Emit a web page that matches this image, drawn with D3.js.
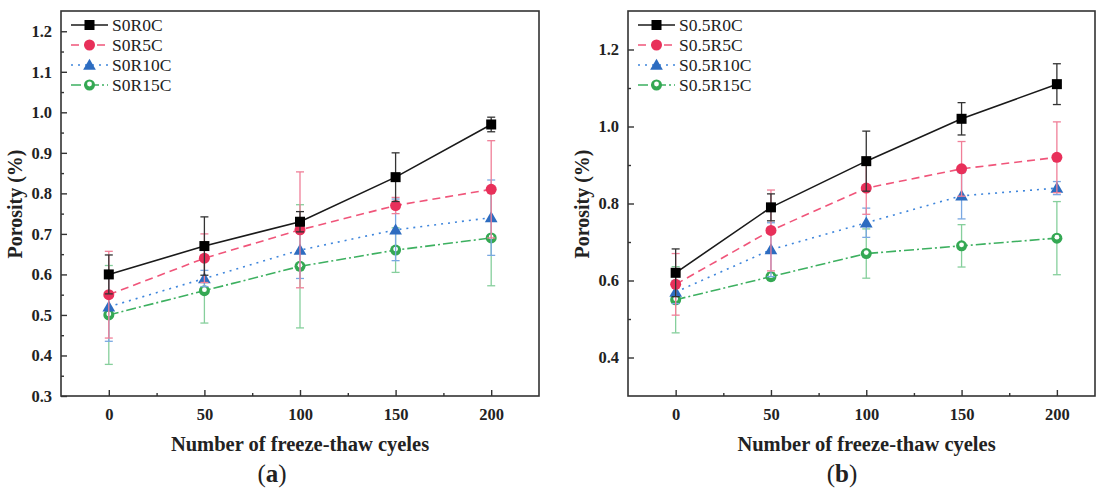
<!DOCTYPE html>
<html>
<head>
<meta charset="utf-8">
<script src="https://cdn.jsdelivr.net/npm/d3@7"></script>
<style>
  body { margin: 0; background: #fff; }
  svg { display: block; font-family: "Liberation Serif", "Times New Roman", serif; }
</style>
</head>
<body>
<script>
// freeze-thaw cycles (x axis)
var cycles = [0, 50, 100, 150, 200];

// panel (a)
var namesA = ["S0R0C", "S0R5C", "S0R10C", "S0R15C"];
var s0r0c = [0.60, 0.67, 0.73, 0.84, 0.97];
var s0r0cErr = [0.048, 0.072, 0.025, 0.06, 0.018];
var s0r5c = [0.55, 0.64, 0.71, 0.77, 0.81];
var s0r5cErr = [0.107, 0.06, 0.143, 0.02, 0.12];
var s0r10c = [0.52, 0.59, 0.66, 0.71, 0.74];
var s0r10cErr = [0.085, 0.02, 0.07, 0.076, 0.093];
var s0r15c = [0.50, 0.56, 0.62, 0.66, 0.69];
var s0r15cErr = [0.122, 0.08, 0.152, 0.055, 0.118];
var yTicksA = [0.3, 0.4, 0.5, 0.6, 0.7, 0.8, 0.9, 1.0, 1.1, 1.2];

// panel (b)
var namesB = ["S0.5R0C", "S0.5R5C", "S0.5R10C", "S0.5R15C"];
var s05r0c = [0.62, 0.79, 0.91, 1.02, 1.11];
var s05r0cErr = [0.062, 0.035, 0.078, 0.042, 0.053];
var s05r5c = [0.59, 0.73, 0.84, 0.89, 0.92];
var s05r5cErr = [0.08, 0.105, 0.068, 0.071, 0.092];
var s05r10c = [0.57, 0.68, 0.75, 0.82, 0.84];
var s05r10cErr = [0.03, 0.07, 0.038, 0.06, 0.017];
var s05r15c = [0.55, 0.61, 0.67, 0.69, 0.71];
var s05r15cErr = [0.086, 0.01, 0.064, 0.055, 0.095];
var yTicksB = [0.4, 0.6, 0.8, 1.0, 1.2];

var xTicks = [0, 50, 100, 150, 200];

// styles per series index
var styles = [
    {line: "#1a1a1a", mark: "#000000", err: "#333333", dash: null, shape: "square"},
    {line: "#f0557a", mark: "#e8305a", err: "#f07f98", dash: "8,5", shape: "circle"},
    {line: "#3f86dc", mark: "#2d6cc0", err: "#7aa8e2", dash: "2,5", shape: "triangle"},
    {line: "#3db060", mark: "#34a853", err: "#86cf9c", dash: "10,3,2,3", shape: "half"}
];

var svg = d3.select("body").append("svg")
    .attr("width", 1096)
    .attr("height", 489);

function drawMarker(g, shape, color, x, y) {
    if (shape == "square") {
        g.append("rect").attr("x", x - 5).attr("y", y - 5).attr("width", 10).attr("height", 10)
            .attr("fill", color);
    } else if (shape == "circle") {
        g.append("circle").attr("cx", x).attr("cy", y).attr("r", 5.5).attr("fill", color);
    } else if (shape == "triangle") {
        g.append("path").attr("d", d3.symbol().type(d3.symbolTriangle).size(70)())
            .attr("transform", "translate(" + x + "," + (y + 1) + ")")
            .attr("fill", color);
    } else {
        g.append("circle").attr("cx", x).attr("cy", y).attr("r", 5.5).attr("fill", color);
        g.append("circle").attr("cx", x).attr("cy", y - 1).attr("r", 2.4).attr("fill", "#fff");
    }
}

function drawPanel(p) {
    var x = d3.scaleLinear().domain(p.xDomain).range([p.left, p.right]);
    var y = d3.scaleLinear().domain(p.yDomain).range([p.bottom, p.top]);
    var g = svg.append("g");

    // series, drawn back to front so the first one is on top
    for (var s = p.series.length - 1; s >= 0; s--) {
        var st = styles[s];
        var vals = p.series[s], errs = p.errors[s];
        var pts = cycles.map(function(c, i) { return {x: c, y: vals[i], e: errs[i]}; });
        var sg = g.append("g");

        // error bars
        pts.forEach(function(d) {
            var px = x(d.x), y1 = y(d.y + d.e), y2 = y(d.y - d.e);
            sg.append("line").attr("x1", px).attr("x2", px).attr("y1", y1).attr("y2", y2)
                .attr("stroke", st.err).attr("stroke-width", 1.3);
            [y1, y2].forEach(function(yy) {
                sg.append("line").attr("x1", px - 4).attr("x2", px + 4).attr("y1", yy).attr("y2", yy)
                    .attr("stroke", st.err).attr("stroke-width", 1.3);
            });
        });

        sg.append("path")
            .datum(pts)
            .attr("d", d3.line().x(function(d) { return x(d.x); }).y(function(d) { return y(d.y); }))
            .attr("fill", "none")
            .attr("stroke", st.line)
            .attr("stroke-width", 1.6)
            .attr("stroke-dasharray", st.dash);

        pts.forEach(function(d) { drawMarker(sg, st.shape, st.mark, x(d.x), y(d.y)); });
    }

    // frame
    g.append("rect")
        .attr("x", p.left).attr("y", p.top)
        .attr("width", p.right - p.left).attr("height", p.bottom - p.top)
        .attr("fill", "none").attr("stroke", "#333").attr("stroke-width", 1.6);

    // x axis (ticks inward)
    var xAxis = d3.axisBottom(x).tickValues(xTicks).tickSize(-6).tickPadding(12).tickFormat(d3.format("d"));
    var xa = g.append("g").attr("transform", "translate(0," + p.bottom + ")").call(xAxis);
    var xMinor = d3.axisBottom(x).tickValues([25, 75, 125, 175]).tickSize(-3).tickFormat("");
    var xm = g.append("g").attr("transform", "translate(0," + p.bottom + ")").call(xMinor);

    // y axis (ticks inward)
    var yAxis = d3.axisLeft(y).tickValues(p.yTicks).tickSize(-6).tickPadding(9).tickFormat(d3.format(".1f"));
    var ya = g.append("g").attr("transform", "translate(" + p.left + ",0)").call(yAxis);
    var yMinor = d3.axisLeft(y).tickValues(p.yMinor).tickSize(-3).tickFormat("");
    var ym = g.append("g").attr("transform", "translate(" + p.left + ",0)").call(yMinor);

    [xa, xm, ya, ym].forEach(function(a) {
        a.select(".domain").remove();
        a.selectAll("line").attr("stroke", "#333").attr("stroke-width", 1.4);
        a.selectAll("text").attr("font-family", "Liberation Serif").attr("font-weight", "bold")
            .attr("font-size", 16.5).attr("fill", "#222");
    });

    // axis titles
    g.append("text")
        .attr("x", (p.left + p.right) / 2 + p.xTitleShift).attr("y", 451)
        .attr("text-anchor", "middle")
        .attr("font-weight", "bold").attr("font-size", 20.5).attr("fill", "#222")
        .text("Number of freeze-thaw cyeles");
    g.append("text")
        .attr("transform", "translate(" + p.yTitleX + "," + 204 + ") rotate(-90)")
        .attr("text-anchor", "middle")
        .attr("font-weight", "bold").attr("font-size", 20).attr("fill", "#222")
        .text("Porosity (%)");

    // panel label
    var lab = g.append("text")
        .attr("x", p.labelX).attr("y", 482)
        .attr("text-anchor", "middle")
        .attr("font-size", 25).attr("fill", "#222");
    lab.append("tspan").text("(");
    lab.append("tspan").attr("font-weight", "bold").text(p.label);
    lab.append("tspan").text(")");

    // legend
    p.names.forEach(function(name, i) {
        var st = styles[i];
        var ly = 25 + i * 20;
        var lx = p.left + 10;
        g.append("line").attr("x1", lx).attr("x2", lx + 37).attr("y1", ly).attr("y2", ly)
            .attr("stroke", st.line).attr("stroke-width", 1.6).attr("stroke-dasharray", st.dash);
        drawMarker(g, st.shape, st.mark, lx + 18.5, ly);
        g.append("text").attr("x", lx + 41).attr("y", ly + 6)
            .attr("font-size", 17.5).attr("fill", "#222").text(name);
    });
}

drawPanel({
    left: 61, right: 539, top: 11, bottom: 396,
    xDomain: [-25, 225], yDomain: [0.3, 1.25],
    yTicks: yTicksA, yMinor: [0.35, 0.45, 0.55, 0.65, 0.75, 0.85, 0.95, 1.05, 1.15],
    series: [s0r0c, s0r5c, s0r10c, s0r15c],
    errors: [s0r0cErr, s0r5cErr, s0r10cErr, s0r15cErr],
    names: namesA, label: "a", labelX: 272, yTitleX: 22, xTitleShift: 0
});

drawPanel({
    left: 628, right: 1095, top: 11, bottom: 396,
    xDomain: [-25, 220], yDomain: [0.3, 1.3],
    yTicks: yTicksB, yMinor: [0.5, 0.7, 0.9, 1.1],
    series: [s05r0c, s05r5c, s05r10c, s05r15c],
    errors: [s05r0cErr, s05r5cErr, s05r10cErr, s05r15cErr],
    names: namesB, label: "b", labelX: 842, yTitleX: 589, xTitleShift: 5
});
</script>
</body>
</html>
